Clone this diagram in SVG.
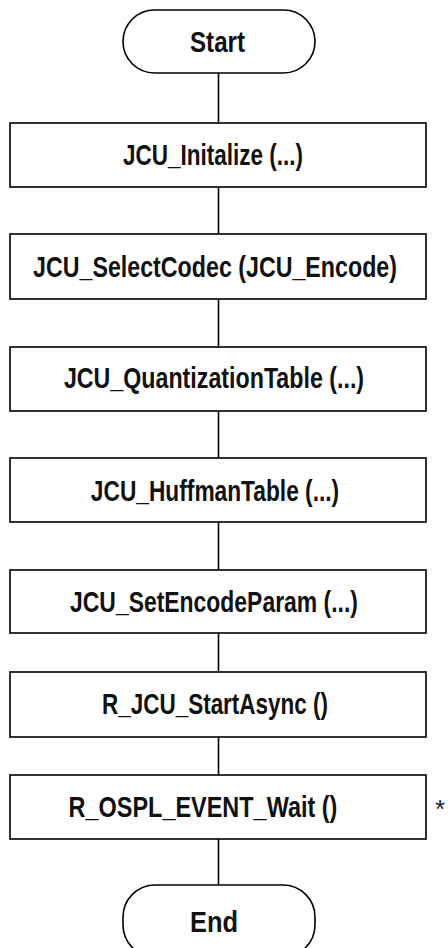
<svg xmlns="http://www.w3.org/2000/svg" width="448" height="948" viewBox="0 0 448 948">
  <style>
    .shape { fill: #ffffff; stroke: #000000; stroke-width: 1.6; }
    .edge { stroke: #000000; stroke-width: 1.6; fill: none; }
    .label { font-family: "Liberation Sans", Arial, sans-serif; font-weight: bold; font-size: 29px; fill: #111111; text-anchor: middle; }
    .note { font-family: "Liberation Sans", Arial, sans-serif; font-size: 26px; fill: #222222; text-anchor: middle; }
  </style>
  <rect width="448" height="948" fill="#ffffff"/>

  <!-- vertical connectors between steps -->
  <g id="connectors">
    <line class="edge" x1="218.5" y1="73" x2="218.5" y2="123"/>
    <line class="edge" x1="218.5" y1="187" x2="218.5" y2="234"/>
    <line class="edge" x1="218.5" y1="299" x2="218.5" y2="347"/>
    <line class="edge" x1="218.5" y1="411" x2="218.5" y2="458"/>
    <line class="edge" x1="218.5" y1="522" x2="218.5" y2="570"/>
    <line class="edge" x1="218.5" y1="633" x2="218.5" y2="672"/>
    <line class="edge" x1="218.5" y1="737" x2="218.5" y2="775"/>
    <line class="edge" x1="218.5" y1="839" x2="218.5" y2="885"/>
  </g>

  <!-- labels use a horizontally condensed bold face -->
  <g id="start">
    <rect class="shape" x="123" y="10" width="192" height="63" rx="31.5" ry="31.5"/>
    <text class="label" transform="translate(217.5 52) scale(0.833 1)">Start</text>
  </g>

  <g id="jcu-initialize">
    <rect class="shape" x="10" y="123" width="416" height="64"/>
    <text class="label" transform="translate(213 165) scale(0.776 1)">JCU_Initalize (...)</text>
  </g>

  <g id="jcu-select-codec">
    <rect class="shape" x="10" y="234" width="416" height="65"/>
    <text class="label" transform="translate(215 277) scale(0.801 1)">JCU_SelectCodec (JCU_Encode)</text>
  </g>

  <g id="jcu-quantization-table">
    <rect class="shape" x="10" y="347" width="416" height="64"/>
    <text class="label" transform="translate(214 388) scale(0.801 1)">JCU_QuantizationTable (...)</text>
  </g>

  <g id="jcu-huffman-table">
    <rect class="shape" x="10" y="458" width="416" height="64"/>
    <text class="label" transform="translate(215 501) scale(0.784 1)">JCU_HuffmanTable (...)</text>
  </g>

  <g id="jcu-set-encode-param">
    <rect class="shape" x="10" y="570" width="416" height="63"/>
    <text class="label" transform="translate(214 612) scale(0.791 1)">JCU_SetEncodeParam (...)</text>
  </g>

  <g id="r-jcu-start-async">
    <rect class="shape" x="10" y="672" width="416" height="65"/>
    <text class="label" transform="translate(215 714) scale(0.775 1)">R_JCU_StartAsync ()</text>
  </g>

  <g id="r-ospl-event-wait">
    <rect class="shape" x="10" y="775" width="416" height="64"/>
    <text class="label" transform="translate(203 817) scale(0.809 1)">R_OSPL_EVENT_Wait ()</text>
    <text class="note" x="440" y="818">*</text>
  </g>

  <g id="end">
    <rect class="shape" x="123" y="885" width="192" height="72" rx="32" ry="32"/>
    <text class="label" transform="translate(214 932) scale(0.876 1)">End</text>
  </g>
</svg>
